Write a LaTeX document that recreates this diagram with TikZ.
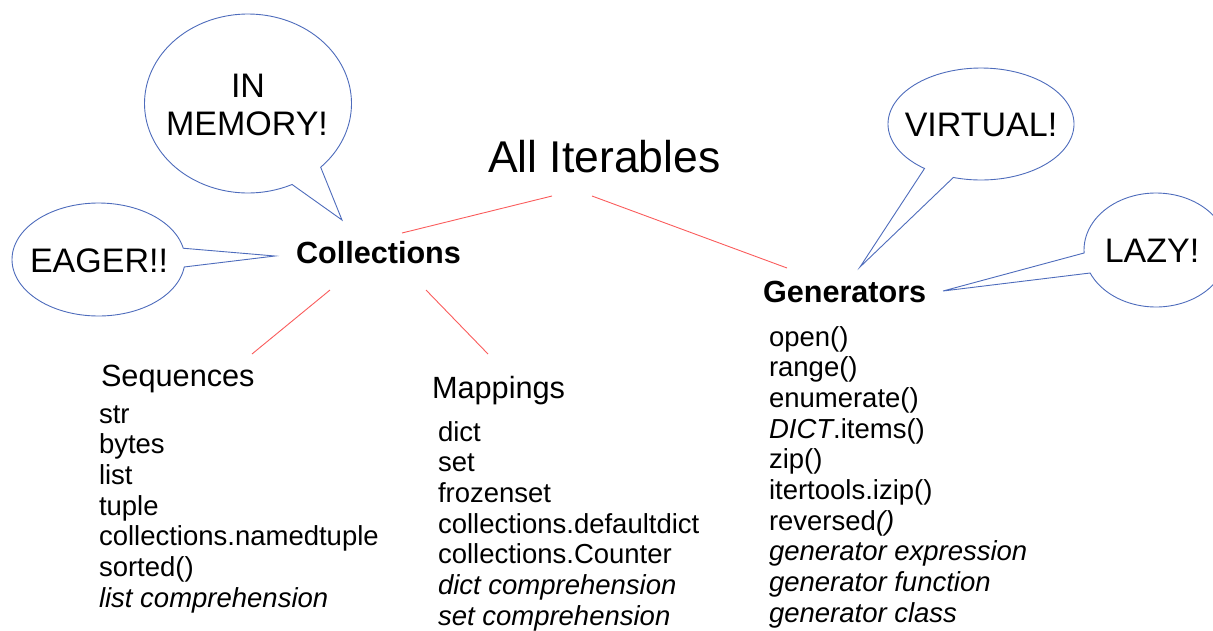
\documentclass[tikz,border=0pt]{standalone}
\usepackage{fontspec}
\setmainfont{Liberation Sans}

\definecolor{bubbleblue}{RGB}{78,108,188}
\definecolor{linkred}{RGB}{250,92,92}

\tikzset{
  bubble/.style={draw=bubbleblue, line width=0.9pt, line join=miter, fill=white},
  link/.style={draw=linkred, line width=0.9pt},
  txt/.style={inner sep=0pt, outer sep=0pt, anchor=base west},
  saytxt/.style={inner sep=0pt, outer sep=0pt, anchor=base, font=\fontsize{34}{38}\selectfont},
  titletxt/.style={txt, font=\fontsize{44.5}{50}\selectfont},
  grouptxt/.style={txt, font=\fontsize{30.6}{34}\selectfont\bfseries},
  headtxt/.style={txt, font=\fontsize{30.7}{34}\selectfont},
  itemtxt/.style={txt, font=\fontsize{27.5}{30.7}\selectfont},
}

\begin{document}
\begin{tikzpicture}[x=1pt, y=-1pt]
\useasboundingbox (0,0) rectangle (1213,630);
\clip (0,0) rectangle (1213,630);

% speech bubbles: elliptic outline with a pointed tail
\draw[bubble] plot[domain=64.8:405.4, samples=140]
  ({248+103.5*cos(\x)}, {103.5+89.5*sin(\x)}) -- (342,220) -- cycle;
\draw[bubble] plot[domain=7.6:348.5, samples=120]
  ({98.5+86.5*cos(\x)}, {259.5+56.5*sin(\x)}) -- (275,256) -- cycle;
\draw[bubble] plot[domain=127.4:467.3, samples=120]
  ({981+93*cos(\x)}, {124+56*sin(\x)}) -- (860,267) -- cycle;
\draw[bubble] plot[domain=177:516.2, samples=120]
  ({1156+72*cos(\x)}, {250+57*sin(\x)}) -- (943,291) -- cycle;

\node[saytxt] (mem1) at (248,97) {IN};
\node[saytxt] (mem2) at (247,135) {MEMORY!};
\node[saytxt] (eager) at (99,272) {EAGER!!};
\node[saytxt] (virtual) at (981,136) {VIRTUAL!};
\node[saytxt] (lazy) at (1152,262) {LAZY!};

% tree labels
\node[titletxt] (all) at (488,172) {All Iterables};
\node[grouptxt] (coll) at (296,263) {Collections};
\node[grouptxt] (gen) at (763,302) {Generators};
\node[headtxt] (seq) at (101,386) {Sequences};
\node[headtxt] (map) at (432,398) {Mappings};

% connector end points just outside the labels
\coordinate (all-l) at (552,196);
\coordinate (all-r) at (592,196);
\coordinate (coll-t) at (402,233);
\coordinate (gen-t) at (787,268);
\coordinate (coll-bl) at (330,290);
\coordinate (coll-br) at (426,290);
\coordinate (seq-t) at (252,354);
\coordinate (map-t) at (488,354);

\draw[link] (all-l) -- (coll-t);
\draw[link] (all-r) -- (gen-t);
\draw[link] (coll-bl) -- (seq-t);
\draw[link] (coll-br) -- (map-t);

% member lists
\foreach \t [count=\i] in {str, bytes, list, tuple, collections.namedtuple,
    sorted(), \textit{list comprehension}}
  \node[itemtxt] (seq-\i) at (99, {423+(\i-1)*30.7}) {\t};

\foreach \t [count=\i] in {dict, set, frozenset, collections.defaultdict,
    collections.Counter, \textit{dict comprehension}, \textit{set comprehension}}
  \node[itemtxt] (map-\i) at (438, {441+(\i-1)*30.7}) {\t};

\foreach \t [count=\i] in {open(), range(), enumerate(), \textit{DICT}.items(),
    zip(), itertools.izip(), reversed\textit{()}, \textit{generator expression},
    \textit{generator function}, \textit{generator class}}
  \node[itemtxt] (gen-\i) at (769, {346+(\i-1)*30.7}) {\t};
\end{tikzpicture}
\end{document}
